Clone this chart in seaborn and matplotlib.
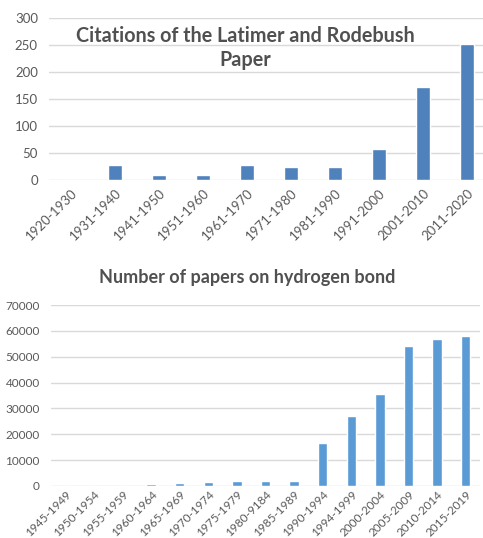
import matplotlib
matplotlib.use("Agg")
import matplotlib.pyplot as plt
import seaborn as sns

# -----------------------------
# DATA
# -----------------------------
cite_periods = ["1920-1930", "1931-1940", "1941-1950", "1951-1960", "1961-1970",
                "1971-1980", "1981-1990", "1991-2000", "2001-2010", "2011-2020"]
cite_counts = [0, 28, 10, 9, 28, 24, 25, 57, 172, 251]

paper_periods = ["1945-1949", "1950-1954", "1955-1959", "1960-1964", "1965-1969",
                 "1970-1974", "1975-1979", "1980-9184", "1985-1989", "1990-1994",
                 "1994-1999", "2000-2004", "2005-2009", "2010-2014", "2015-2019"]
paper_counts = [0, 0, 0, 700, 1000, 1500, 1800, 1800, 2100, 16500,
                27000, 35700, 54000, 56900, 57900]

# -----------------------------
# STYLE
# -----------------------------
sns.set_style("white")
plt.rcParams["font.family"] = ["Lato", "DejaVu Sans"]

W, H = 483, 538
fig = plt.figure(figsize=(W / 100, H / 100), dpi=100)

grid_col = "#d9d9d9"
tick_col = "#595959"
title_col = "#505050"


def px_axes(left, right, top, bottom):
    return fig.add_axes([left / W, 1 - bottom / H, (right - left) / W, (bottom - top) / H])


def style_axis(ax, ymax, step, fs, xpad):
    ax.set_ylim(0, ymax)
    ax.set_yticks(range(0, ymax + 1, step))
    ax.yaxis.grid(True, color=grid_col, linewidth=1)
    ax.set_axisbelow(True)
    for s in ax.spines.values():
        s.set_visible(False)
    ax.tick_params(axis="both", length=0, colors=tick_col, labelsize=fs)
    ax.tick_params(axis="y", pad=8)
    ax.tick_params(axis="x", pad=xpad)
    for lab in ax.get_xticklabels():
        lab.set_rotation(45)
        lab.set_ha("right")
        lab.set_rotation_mode("anchor")
    ax.set_xlabel("")
    ax.set_ylabel("")


# -----------------------------
# TOP CHART: citations
# -----------------------------
ax1 = px_axes(49, 483, 18, 180)
sns.barplot(x=cite_periods, y=cite_counts, ax=ax1, color="#4f81bd",
            width=0.32, saturation=1)
ax1.set_xlim(-0.5, 9.364)
style_axis(ax1, 300, 50, 9.5, 5)

fig.text(245 / W, 1 - 48 / H, "Citations of the Latimer and Rodebush\nPaper",
         ha="center", va="center", fontsize=14.2, fontweight="bold",
         color=title_col, linespacing=1.3)

# -----------------------------
# BOTTOM CHART: papers
# -----------------------------
ax2 = px_axes(51, 480, 305, 486)
sns.barplot(x=paper_periods, y=paper_counts, ax=ax2, color="#5b9bd5",
            width=0.33, saturation=1)
ax2.set_xlim(-0.5, 14.5)
style_axis(ax2, 70000, 10000, 8.5, 2)

fig.text(247 / W, 1 - 277 / H, "Number of papers on hydrogen bond",
         ha="center", va="center", fontsize=13, fontweight="bold",
         color=title_col)

fig.savefig("out.png", dpi=100)
